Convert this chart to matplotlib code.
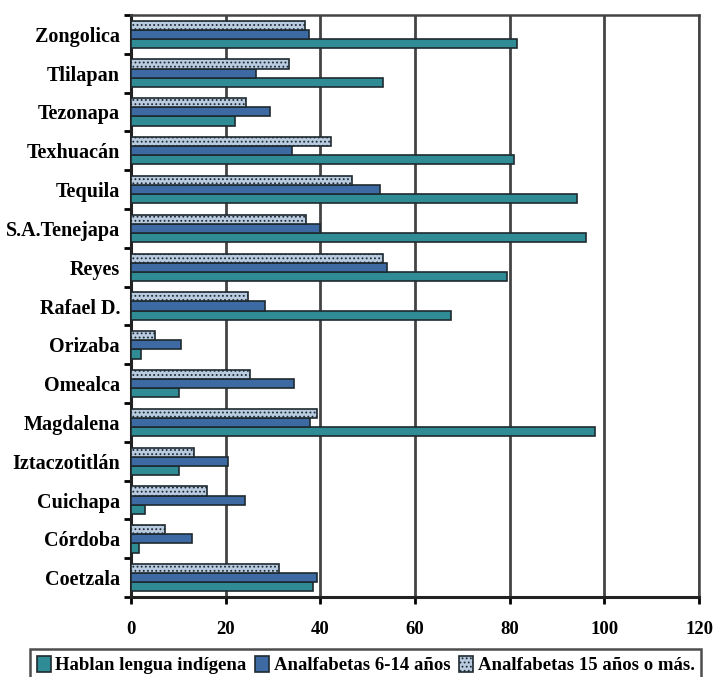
import numpy as np
import matplotlib
matplotlib.use("Agg")
import matplotlib.pyplot as plt

plt.rcParams['font.family'] = ['Liberation Serif', 'DejaVu Serif']
plt.rcParams['font.weight'] = 'bold'
plt.rcParams['hatch.color'] = '#ffffff'
plt.rcParams['hatch.linewidth'] = 0.8

# categories from bottom to top
municipios = ['Coetzala', 'Córdoba', 'Cuichapa', 'Iztaczotitlán', 'Magdalena',
              'Omealca', 'Orizaba', 'Rafael D.', 'Reyes', 'S.A.Tenejapa',
              'Tequila', 'Texhuacán', 'Tezonapa', 'Tlilapan', 'Zongolica']

hablan_lengua = [38.4, 1.7, 3.0, 10.1, 98.0, 10.1, 2.1, 67.6, 79.4, 96.0,
                 94.2, 80.9, 22.0, 53.2, 81.5]
analf_6_14 = [39.3, 12.9, 24.0, 20.5, 37.8, 34.5, 10.6, 28.3, 54.0, 40.0,
              52.6, 34.0, 29.4, 26.4, 37.6]
analf_15 = [31.3, 7.2, 16.0, 13.3, 39.3, 25.0, 5.0, 24.7, 53.2, 37.0,
            46.7, 42.2, 24.3, 33.4, 36.7]

x_ticks = [0, 20, 40, 60, 80, 100, 120]

fig = plt.figure(figsize=(7.17, 6.77), dpi=100)
ax = fig.add_axes([0.183, 0.118, 0.792, 0.860])

y = np.arange(len(municipios))
h = 0.235
edge = '#1e2a30'

b1 = ax.barh(y - h, hablan_lengua, height=h, color='#2f8c94', edgecolor=edge,
             linewidth=1.2, label='Hablan lengua indígena', zorder=3)
b2 = ax.barh(y, analf_6_14, height=h, color='#3e6aa3', edgecolor=edge,
             linewidth=1.2, label='Analfabetas 6-14 años', zorder=3)
b3 = ax.barh(y + h, analf_15, height=h, color='#b9cbe0', edgecolor=edge,
             linewidth=1.2, hatch='....', label='Analfabetas 15 años o más.', zorder=3)

ax.set_xlim(0, 120)
ax.set_ylim(-0.5, len(municipios) - 0.5)
ax.set_xticks(x_ticks)
ax.set_xticklabels([str(v) for v in x_ticks], fontsize=13.5, fontweight='bold')
ax.set_yticks(y)
ax.set_yticklabels(municipios, fontsize=14.5, fontweight='bold')
ax.set_yticks(np.arange(-0.5, len(municipios), 1), minor=True)
ax.tick_params(axis='y', which='major', length=0, pad=8)
ax.tick_params(axis='y', which='minor', length=5, width=2, direction='out')
ax.tick_params(axis='x', length=5, width=2, direction='out', pad=12)

ax.grid(axis='x', color='#444444', linewidth=2, zorder=0)
for s in ax.spines.values():
    s.set_color('#444444')
    s.set_linewidth(1.8)
ax.spines['left'].set_color('#222222')
ax.spines['bottom'].set_color('#222222')
ax.spines['left'].set_linewidth(2.2)
ax.spines['bottom'].set_linewidth(2.2)

leg = fig.legend(handles=[b1, b2, b3], loc='lower center',
                 bbox_to_anchor=(0.51, -0.014), ncol=3, frameon=True,
                 fancybox=False, edgecolor='#222222',
                 handlelength=0.75, handleheight=0.9, handletextpad=0.25,
                 columnspacing=0.45, borderpad=0.35, borderaxespad=0.3,
                 prop={'weight': 'bold', 'size': 13.5})
leg.get_frame().set_linewidth(1.8)

fig.savefig('out.png', dpi=100)
